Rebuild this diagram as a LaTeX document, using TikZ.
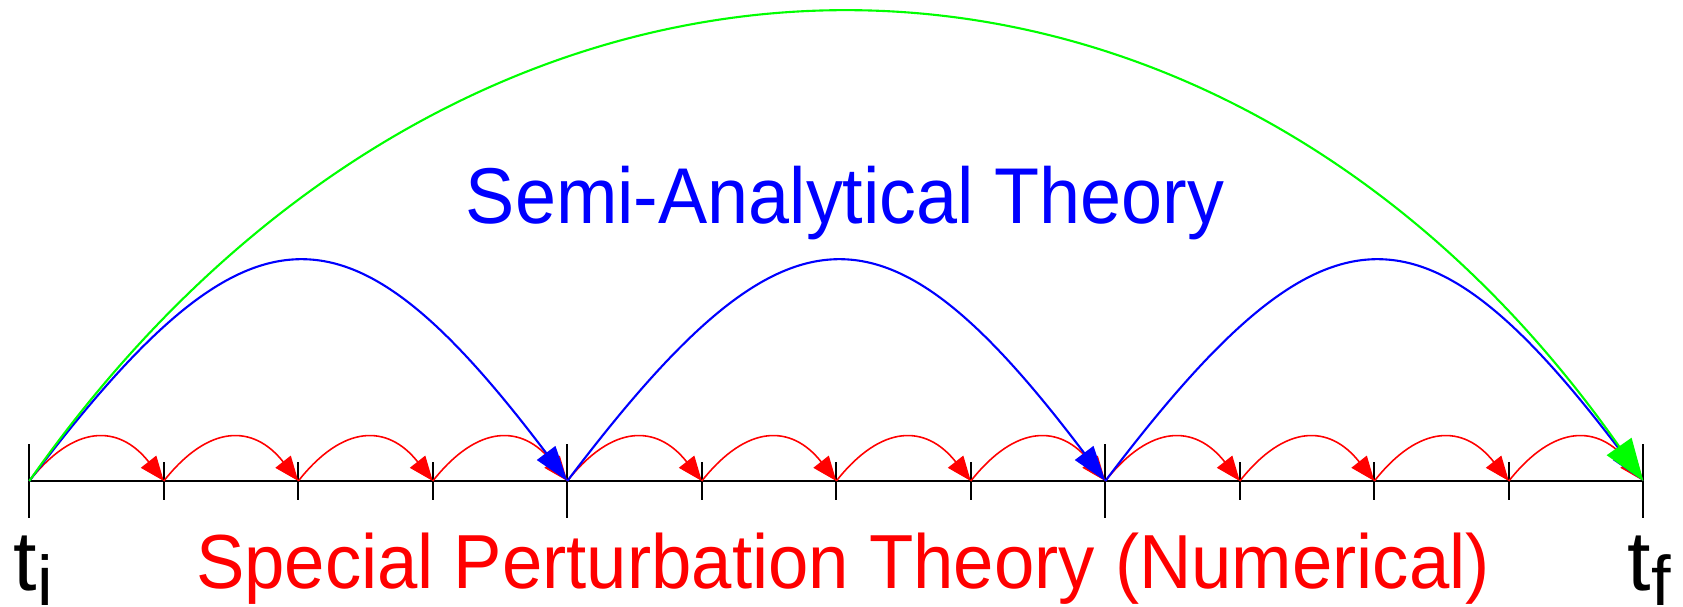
\documentclass[tikz,border=0pt]{standalone}
\usepackage{fontspec}
\usetikzlibrary{arrows.meta}
\newfontfamily\labelfont{Liberation Sans}

\begin{document}
\begin{tikzpicture}[x=0.01cm, y=-0.01cm,
  axisline/.style={black, line width=0.6pt},
  majortick/.style={black, line width=0.6pt},
  smallstep/.style={red, line width=0.45pt, -{Triangle[length=7pt, width=5.5pt]}},
  bigstep/.style={blue, line width=0.6pt, -{Triangle[length=10pt, width=6.5pt]}},
  wholestep/.style={green, line width=0.6pt, -{Triangle[length=12pt, width=8.5pt]}},
  title/.style={anchor=base, inner sep=0pt},
  timelabel/.style={font=\labelfont\fontsize{24}{28}\selectfont, anchor=base west, inner sep=0pt}
]
\useasboundingbox (0,0) rectangle (1683,606);

% time points
\coordinate (p0)  at (29.3,481);
\coordinate (p1)  at (163.8,481);
\coordinate (p2)  at (298.3,481);
\coordinate (p3)  at (432.8,481);
\coordinate (p4)  at (567.3,481);
\coordinate (p5)  at (701.8,481);
\coordinate (p6)  at (836.3,481);
\coordinate (p7)  at (970.8,481);
\coordinate (p8)  at (1105.3,481);
\coordinate (p9)  at (1239.8,481);
\coordinate (p10) at (1374.3,481);
\coordinate (p11) at (1508.8,481);
\coordinate (p12) at (1643.3,481);

% axis and ticks
\draw[axisline] (p0) -- (p12);
\foreach \k in {0,4,8,12}
  \draw[majortick] (p\k) ++(0,-37) -- ++(0,74);
\foreach \k in {1,2,3,5,6,7,9,10,11}
  \draw[majortick] (p\k) ++(0,-19) -- ++(0,38);

% numerical steps
\draw[smallstep] (p0) .. controls +(45,-57) and +(-45,-57) .. (p1);
\draw[smallstep] (p1) .. controls +(45,-57) and +(-45,-57) .. (p2);
\draw[smallstep] (p2) .. controls +(45,-57) and +(-45,-57) .. (p3);
\draw[smallstep] (p3) .. controls +(45,-57) and +(-45,-57) .. (p4);
\draw[smallstep] (p4) .. controls +(45,-57) and +(-45,-57) .. (p5);
\draw[smallstep] (p5) .. controls +(45,-57) and +(-45,-57) .. (p6);
\draw[smallstep] (p6) .. controls +(45,-57) and +(-45,-57) .. (p7);
\draw[smallstep] (p7) .. controls +(45,-57) and +(-45,-57) .. (p8);
\draw[smallstep] (p8) .. controls +(45,-57) and +(-45,-57) .. (p9);
\draw[smallstep] (p9) .. controls +(45,-57) and +(-45,-57) .. (p10);
\draw[smallstep] (p10) .. controls +(45,-57) and +(-45,-57) .. (p11);
\draw[smallstep] (p11) .. controls +(45,-57) and +(-45,-57) .. (p12);

% semi-analytical steps
\draw[bigstep] (p0) .. controls +(220,-291) and +(-220,-291) .. (p4);
\draw[bigstep] (p4) .. controls +(220,-291) and +(-220,-291) .. (p8);
\draw[bigstep] (p8) .. controls +(220,-291) and +(-220,-291) .. (p12);

% single step
\draw[wholestep] (p0) .. controls +(436,-622) and +(-436,-622) .. (p12);

% labels
\node[title, text=blue, font=\labelfont\fontsize{22.5}{26}\selectfont, xscale=0.932] (semi) at (845,223) {Semi-Analytical Theory};
\node[title, text=red, font=\labelfont\fontsize{21.8}{26}\selectfont, xscale=0.946] (spec) at (843,588) {Special Perturbation Theory (Numerical)};
\node[timelabel] (ti) at (13,590) {t\raisebox{-4.5pt}{\fontsize{20}{24}\selectfont i}};
\node[timelabel] (tf) at (1627,590) {t\raisebox{-4.5pt}{\fontsize{20}{24}\selectfont f}};

\end{tikzpicture}
\end{document}
